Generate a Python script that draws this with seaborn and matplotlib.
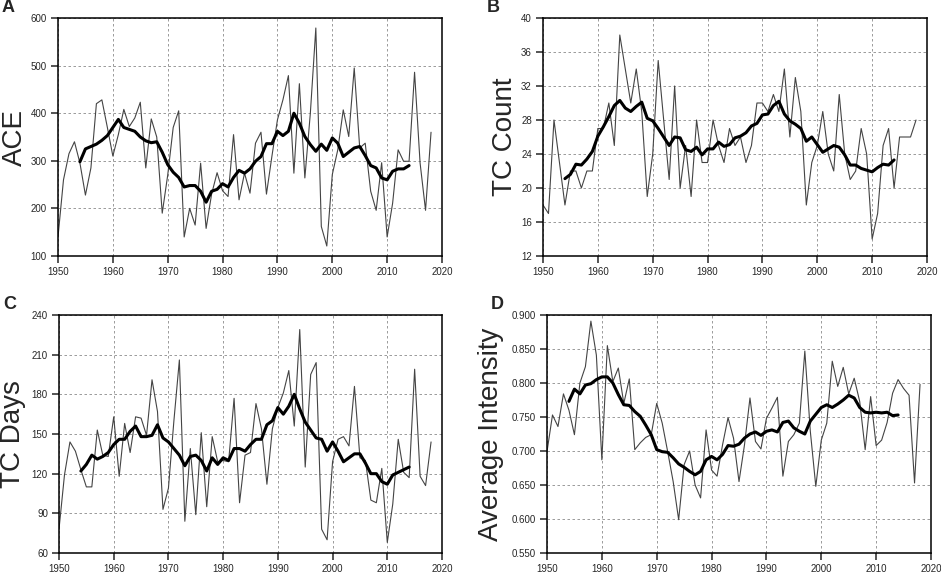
import numpy as np
import matplotlib
matplotlib.use("Agg")
import matplotlib.pyplot as plt
import seaborn as sns
from matplotlib.ticker import FormatStrFormatter

# yearly values 1950-2018 and 9-year running mean 1954-2014
years = list(range(1950, 2019))
ma_years = list(range(1954, 2015))

ace = [140, 260, 315, 340, 295, 228, 285, 420, 428, 370,
       310, 355, 408, 372, 390, 423, 285, 388, 350, 190,
       270, 370, 405, 140, 200, 165, 295, 158, 230, 275,
       237, 225, 355, 218, 274, 232, 337, 360, 230, 310,
       386, 428, 479, 274, 462, 264, 400, 579, 162, 121,
       271, 323, 407, 351, 495, 327, 337, 236, 196, 296,
       140, 211, 323, 299, 299, 486, 296, 196, 360]
ace_ma = [298, 325, 330, 335, 343, 353, 370, 387, 370, 366,
          362, 350, 342, 338, 340, 318, 292, 276, 265, 245,
          248, 248, 236, 213, 236, 240, 252, 245, 265, 280,
          274, 283, 299, 309, 336, 336, 362, 353, 362, 400,
          379, 351, 334, 320, 335, 322, 348, 337, 309, 318,
          327, 330, 311, 290, 285, 264, 260, 278, 283, 283,
          290]

tc_count = [18, 17, 28, 23, 18, 22, 22, 20, 22, 22,
            27, 27, 30, 25, 38, 34, 30, 34, 29, 19,
            24, 35, 28, 21, 32, 20, 25, 19, 28, 23,
            23, 28, 25, 23, 27, 25, 26, 23, 25, 30,
            30, 29, 31, 29, 34, 26, 33, 29, 18, 23,
            25, 29, 24, 22, 31, 24, 21, 22, 27, 24,
            14, 17, 25, 27, 20, 26, 26, 26, 28]
tc_count_ma = [21.1, 21.6, 22.8, 22.7, 23.4, 24.3, 26.1, 27.2, 28.4, 29.7,
               30.3, 29.4, 29.0, 29.6, 30.1, 28.2, 27.9, 27.0, 26.0, 25.0,
               26.0, 25.9, 24.5, 24.3, 24.8, 23.9, 24.6, 24.6, 25.4, 24.9,
               25.1, 25.9, 26.1, 26.5, 27.3, 27.6, 28.6, 28.7, 29.7, 30.2,
               28.7, 27.9, 27.5, 27.0, 25.5, 26.0, 25.1, 24.2, 24.6, 25.0,
               24.8, 23.9, 22.7, 22.7, 22.3, 22.1, 21.9, 22.4, 22.8, 22.7,
               23.3]

tc_days = [78, 119, 144, 137, 123, 110, 110, 153, 134, 133,
           163, 118, 158, 136, 163, 162, 149, 191, 167, 93,
           109, 160, 206, 84, 139, 89, 151, 95, 148, 129,
           130, 129, 177, 98, 134, 136, 173, 154, 112, 154,
           170, 181, 198, 156, 229, 125, 195, 204, 78, 70,
           129, 146, 148, 141, 186, 132, 130, 100, 98, 124,
           68, 97, 146, 121, 117, 199, 118, 111, 144]
tc_days_ma = [122, 127, 134, 131, 133, 136, 142, 146, 146, 152,
              156, 148, 148, 149, 157, 147, 144, 139, 134, 126,
              133, 134, 130, 122, 132, 127, 132, 130, 139, 139,
              137, 142, 146, 146, 157, 160, 170, 165, 171, 180,
              169, 159, 153, 147, 146, 137, 144, 137, 129, 132,
              135, 135, 128, 120, 120, 114, 112, 119, 121, 123,
              125]

intensity = [0.699, 0.753, 0.736, 0.784, 0.760, 0.724, 0.800, 0.824, 0.891, 0.841,
             0.687, 0.855, 0.802, 0.822, 0.770, 0.806, 0.702, 0.712, 0.720, 0.724,
             0.770, 0.741, 0.699, 0.655, 0.599, 0.680, 0.700, 0.650, 0.631, 0.731,
             0.672, 0.663, 0.709, 0.749, 0.719, 0.655, 0.709, 0.778, 0.714, 0.703,
             0.748, 0.763, 0.779, 0.663, 0.714, 0.724, 0.741, 0.847, 0.729, 0.648,
             0.716, 0.741, 0.832, 0.795, 0.823, 0.784, 0.807, 0.773, 0.702, 0.780,
             0.708, 0.716, 0.742, 0.785, 0.805, 0.792, 0.782, 0.653, 0.798]
intensity_ma = [0.773, 0.791, 0.784, 0.797, 0.799, 0.805, 0.809, 0.809, 0.800, 0.783,
                0.768, 0.767, 0.758, 0.751, 0.738, 0.724, 0.702, 0.699, 0.698, 0.690,
                0.681, 0.676, 0.670, 0.665, 0.670, 0.687, 0.692, 0.687, 0.695, 0.708,
                0.707, 0.710, 0.719, 0.725, 0.728, 0.723, 0.729, 0.731, 0.728, 0.742,
                0.744, 0.734, 0.729, 0.725, 0.744, 0.754, 0.764, 0.768, 0.764, 0.769,
                0.775, 0.782, 0.778, 0.764, 0.757, 0.756, 0.757, 0.756, 0.757, 0.752,
                0.753]

sns.set_style("ticks")
plt.rcParams['font.family'] = ['Liberation Sans', 'DejaVu Sans']

fig = plt.figure(figsize=(9.41, 5.76), dpi=100)

panels = [
    ("A", "ACE", ace, ace_ma, (100, 600), np.arange(100, 601, 100), "%d",
     [58 / 941, 320 / 576, 384 / 941, 238 / 576], -0.094),
    ("B", "TC Count", tc_count, tc_count_ma, (12, 40), np.arange(12, 41, 4), "%d",
     [543 / 941, 320 / 576, 384 / 941, 238 / 576], -0.081),
    ("C", "TC Days", tc_days, tc_days_ma, (60, 240), np.arange(60, 241, 30), "%d",
     [59 / 941, 23 / 576, 383 / 941, 238 / 576], -0.102),
    ("D", "Average Intensity", intensity, intensity_ma, (0.55, 0.90),
     np.arange(0.55, 0.901, 0.05), "%.3f",
     [547 / 941, 23 / 576, 384 / 941, 238 / 576], -0.128),
]

for letter, label, vals, ma, ylim, yticks, fmt, rect, lab_x in panels:
    ax = fig.add_axes(rect)
    sns.lineplot(x=years, y=vals, ax=ax, color="#444444", lw=0.8)
    sns.lineplot(x=ma_years, y=ma, ax=ax, color="black", lw=2.2)
    ax.set_xlim(1950, 2020)
    ax.set_ylim(*ylim)
    ax.set_xticks(range(1950, 2021, 10))
    ax.set_yticks(yticks)
    ax.yaxis.set_major_formatter(FormatStrFormatter(fmt))
    ax.grid(True, linestyle=(0, (3, 3)), color="#8a8a8a", lw=0.6)
    for s in ax.spines.values():
        s.set_visible(True)
        s.set_linewidth(1.1)
        s.set_color("black")
    ax.tick_params(direction="out", length=5, width=1.1, labelsize=7, pad=3)
    ax.set_ylabel(label, fontsize=20, va="baseline")
    ax.yaxis.set_label_coords(lab_x, 0.5)
    ax.set_xlabel("")
    fig.text(rect[0] - 56 / 941, rect[1] + rect[3] + 2 / 576, letter,
             fontsize=13, fontweight="bold", va="bottom", ha="left")

fig.savefig("out.png", dpi=100)
